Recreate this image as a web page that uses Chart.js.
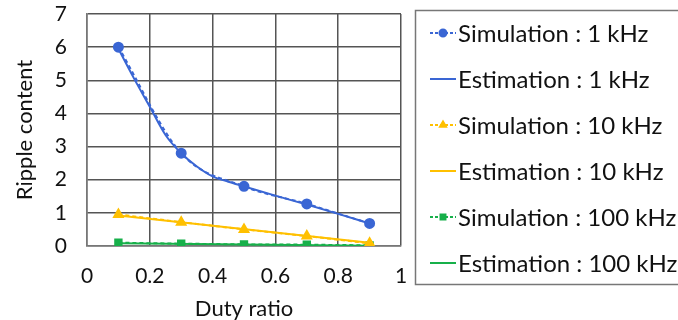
<!DOCTYPE html>
<html>
<head>
<meta charset="utf-8">
<script src="https://cdn.jsdelivr.net/npm/chart.js@4.4.0/dist/chart.umd.min.js"></script>
<style>
  html, body { margin: 0; padding: 0; background: #fff; }
  #wrap { width: 678px; height: 320px; }
</style>
</head>
<body>
<div id="wrap"><canvas id="myChart" width="678" height="320"></canvas></div>
<script>
// duty ratio of the simulated points
const dutySim = [0.1, 0.3, 0.5, 0.7, 0.9];
const sim1k = [6.0, 2.8, 1.8, 1.27, 0.68];
const sim10k = [0.95, 0.72, 0.5, 0.3, 0.08];
const sim100k = [0.1, 0.07, 0.05, 0.04, 0.02];

// estimation curves
const dutyEst = [0.1, 0.15, 0.2, 0.25, 0.3, 0.35, 0.4, 0.45, 0.5, 0.6, 0.7, 0.8, 0.9];
const est1k = [5.95, 5.05, 4.2, 3.35, 2.8, 2.4, 2.1, 1.94, 1.8, 1.52, 1.25, 0.97, 0.68];
const dutyEstLin = [0.1, 0.9];
const est10k = [0.92, 0.1];
const est100k = [0.08, 0.01];

const yTicks = [0, 1, 2, 3, 4, 5, 6, 7];
const xTicks = [0, 0.2, 0.4, 0.6, 0.8, 1];

const blue = '#3a66d4';
const orange = '#ffc000';
const green = '#17b04a';
const fontName = 'Lato';

function pts(xs, ys) {
    return xs.map((x, i) => ({x: x, y: ys[i]}));
}

const data = {
    datasets: [
        {label: 'Simulation : 1 kHz', data: pts(dutySim, sim1k), borderColor: blue, backgroundColor: blue,
         borderDash: [4, 3], borderWidth: 2, pointStyle: 'circle', pointRadius: 4.5, sim: true,
         cubicInterpolationMode: 'monotone'},
        {label: 'Estimation : 1 kHz', data: pts(dutyEst, est1k), borderColor: blue, backgroundColor: blue,
         borderWidth: 2, pointRadius: 0, cubicInterpolationMode: 'monotone'},
        {label: 'Simulation : 10 kHz', data: pts(dutySim, sim10k), borderColor: orange, backgroundColor: orange,
         borderDash: [4, 3], borderWidth: 2, pointStyle: 'triangle', pointRadius: 5, sim: true},
        {label: 'Estimation : 10 kHz', data: pts(dutyEstLin, est10k), borderColor: orange, backgroundColor: orange,
         borderWidth: 2, pointRadius: 0},
        {label: 'Simulation : 100 kHz', data: pts(dutySim, sim100k), borderColor: green, backgroundColor: green,
         borderDash: [4, 3], borderWidth: 2, pointStyle: 'rect', pointRadius: 4.5, sim: true},
        {label: 'Estimation : 100 kHz', data: pts(dutyEstLin, est100k), borderColor: green, backgroundColor: green,
         borderWidth: 2, pointRadius: 0}
    ]
};

// legend box drawn on the canvas, right of the plot
const boxLegend = {
    id: 'boxLegend',
    afterDraw(chart) {
        const ctx = chart.ctx;
        ctx.save();
        ctx.strokeStyle = '#777';
        ctx.lineWidth = 1.5;
        ctx.strokeRect(415.5, 10.5, 300, 274);
        chart.data.datasets.forEach((ds, i) => {
            const y = 33 + i * 46;
            ctx.strokeStyle = ds.borderColor;
            ctx.lineWidth = 2;
            ctx.setLineDash(ds.sim ? [3, 2] : []);
            ctx.beginPath();
            ctx.moveTo(430, y);
            ctx.lineTo(456, y);
            ctx.stroke();
            ctx.setLineDash([]);
            if (ds.sim) {
                Chart.helpers.drawPoint(ctx, {pointStyle: ds.pointStyle, radius: 3.5, borderWidth: 1,
                    rotation: 0}, 443, y);
                ctx.fillStyle = ds.backgroundColor;
                ctx.fill();
            }
            ctx.fillStyle = '#111';
            ctx.font = '24px ' + fontName;
            ctx.textBaseline = 'middle';
            ctx.fillText(ds.label, 458, y + 1);
        });
        ctx.restore();
    }
};

const config = {
    type: 'line',
    data,
    options: {
        responsive: false,
        animation: false,
        layout: {autoPadding: false, padding: {top: 14, right: 277, left: 0, bottom: 0}},
        plugins: {legend: {display: false}, tooltip: {enabled: false}},
        scales: {
            x: {
                type: 'linear', min: 0, max: 1,
                afterBuildTicks: (axis) => { axis.ticks = xTicks.map(v => ({value: v})); },
                afterFit: (axis) => { axis.height = 74; axis.paddingLeft = 0; axis.paddingRight = 0; },
                ticks: {color: '#111', font: {family: fontName, size: 21}, padding: 18,
                        callback: (v) => String(v)},
                grid: {color: '#555', lineWidth: 1.5, drawTicks: false},
                border: {color: '#777', width: 1.5},
                title: {display: true, text: 'Duty ratio', color: '#111', font: {family: fontName, size: 22}, padding: {top: 14, bottom: -2}}
            },
            y: {
                min: 0, max: 7,
                afterBuildTicks: (axis) => { axis.ticks = yTicks.map(v => ({value: v})); },
                afterFit: (axis) => { axis.width = 87; axis.paddingTop = 0; axis.paddingBottom = 0; },
                ticks: {color: '#111', font: {family: fontName, size: 21}, padding: 20},
                grid: {color: '#555', lineWidth: 1.5, drawTicks: false},
                border: {color: '#777', width: 1.5},
                title: {display: true, text: 'Ripple content', color: '#111', font: {family: fontName, size: 22}, padding: {top: 12, bottom: 0}}
            }
        }
    },
    plugins: [boxLegend]
};

var myChart = new Chart(document.getElementById('myChart'), config);
</script>
</body>
</html>
